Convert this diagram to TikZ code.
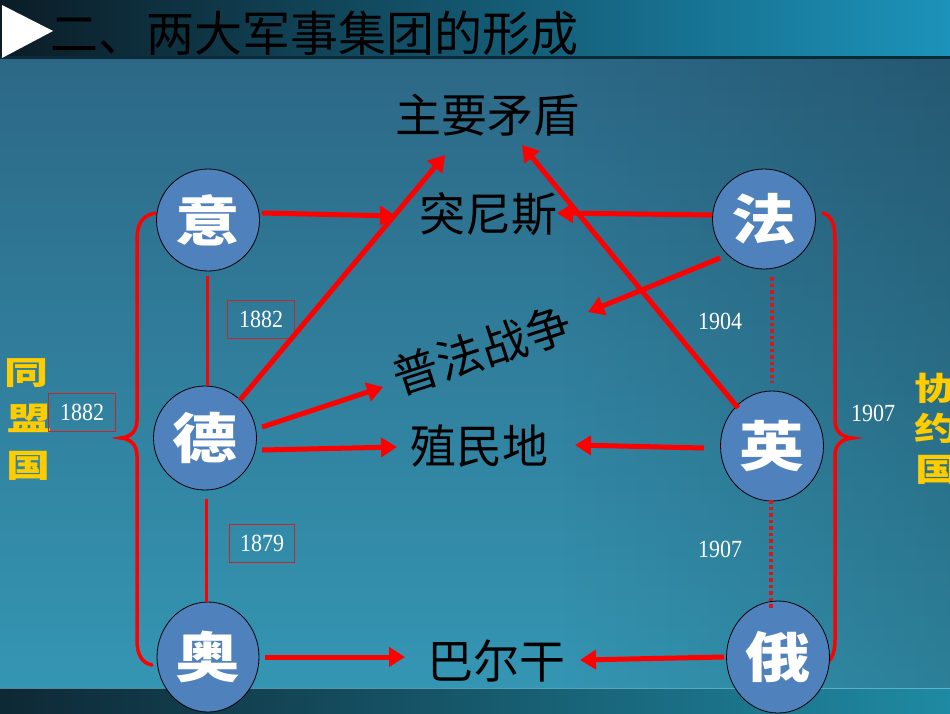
\documentclass[tikz,border=0pt]{standalone}
\usepackage{fontspec}
\setmainfont{Liberation Serif}
\newfontfamily\cjk{Noto Sans CJK SC}
\usetikzlibrary{shapes.geometric,arrows.meta,fadings}
\definecolor{circ}{HTML}{4F81BD}
\definecolor{gold}{HTML}{FFCC00}
\definecolor{bgtop}{HTML}{2C6886}
\definecolor{bgmid}{HTML}{2F88A6}
\definecolor{bgbot}{HTML}{3496B3}
\definecolor{bandL}{HTML}{0B1C26}
\definecolor{bandM}{HTML}{135A76}
\definecolor{bandR}{HTML}{1C93BA}
\definecolor{bandline}{HTML}{0A2A38}
\definecolor{botL}{HTML}{0E2835}
\definecolor{botR}{HTML}{1F8AA3}
\definecolor{boxred}{HTML}{C0282A}
\definecolor{dotred}{HTML}{D81818}
\begin{document}
\begin{tikzpicture}[x=1pt,y=-1pt,
  country/.style={ellipse, draw=black, line width=0.8pt, fill=circ, inner sep=0pt,
    minimum width=103pt, text=white, font=\cjk\bfseries\fontsize{54}{54}\selectfont},
  topic/.style={font=\cjk\fontsize{46}{46}\selectfont, text=black, inner sep=0pt},
  arr/.style={draw=red, line width=5pt, -{Triangle[length=16pt,width=19pt]}},
  link/.style={draw=red, line width=3pt},
  dotlink/.style={draw=dotred, line width=3.8pt, dash pattern=on 3.5pt off 3pt},
  year/.style={text=white, font=\fontsize{22}{22}\selectfont, inner sep=0pt},
  yearbox/.style={year, draw=boxred, line width=0.8pt, minimum width=67pt, minimum height=38pt},
  brace/.style={draw=red, line width=3.5pt, line cap=round},
  bloc/.style={text=gold, font=\cjk\bfseries\fontsize{40}{40}\selectfont, inner sep=0pt}]
\useasboundingbox (0,0) rectangle (950,713);
\clip (0,0) rectangle (950,713);
% background
\shade[top color=bgtop, middle color=bgmid, bottom color=bgbot] (0,57) rectangle (950,690);
\fill[black, opacity=0.15, path fading=west] (560,57) rectangle (950,690);
\shade[left color=bandL, middle color=bandM, right color=bandR] (0,0) rectangle (950,57);
\fill[bandline] (0,56) rectangle (950,59);
\shade[left color=botL, right color=botR] (0,688) rectangle (950,713);
\draw[cyan!40!white, opacity=0.5, line width=1pt] (0,688) -- (950,688);
\fill[white] (2,5) -- (53,31) -- (2,58) -- cycle;
% title
\node[anchor=west, font=\cjk\fontsize{48}{48}\selectfont, text=black, inner sep=0pt] (title) at (50,33) {二、两大军事集团的形成};
% braces
\draw[brace] (155,213) .. controls (141,216) and (137,225) .. (137,240) -- (137,420)
  .. controls (137,432) and (130,437) .. (121,438) .. controls (130,439) and (137,444) .. (137,456)
  -- (137,640) .. controls (137,655) and (142,663) .. (152,665);
\draw[brace] (823,213) .. controls (832,216) and (835,225) .. (835,240) -- (835,420)
  .. controls (835,432) and (842,437) .. (852,438) .. controls (842,439) and (835,444) .. (835,456)
  -- (835,640) .. controls (835,655) and (830,663) .. (822,665);
% countries
\node[country, minimum height=102pt] (yi) at (208,220) {\scalebox{1.2}[1]{意}};
\node[country, minimum height=104pt] (de) at (205,438) {\scalebox{1.2}[1]{德}};
\node[country, minimum width=102pt, minimum height=110pt] (ao) at (208,657) {\scalebox{1.2}[1]{奥}};
\node[country, minimum height=100pt] (fa) at (764,219) {\scalebox{1.2}[1]{法}};
\node[country, minimum height=110pt] (ying) at (772,446) {\scalebox{1.2}[1]{英}};
\node[country, minimum height=112pt] (e) at (778,657) {\scalebox{1.2}[1]{俄}};
% topics
\node[topic] (zyms) at (487,115) {主要矛盾};
\node[topic] (tns) at (488,214) {突尼斯};
\node[topic, rotate=18] (pfzz) at (482,350) {普法战争};
\node[topic] (zmd) at (479,446) {殖民地};
\node[topic] (beg) at (496,661) {巴尔干};
% blocs
\node[bloc] (tong) at (27,373) {\scalebox{1.1}[0.8]{同}};
\node[bloc] (meng) at (29,418) {\scalebox{1.1}[0.8]{盟}};
\node[bloc] (guo1) at (28,466) {\scalebox{1.1}[0.8]{国}};
\node[bloc] (xie) at (936,388) {\scalebox{1.1}[0.8]{协}};
\node[bloc] (yue) at (936,428) {\scalebox{1.1}[0.8]{约}};
\node[bloc] (guo2) at (937,470) {\scalebox{1.1}[0.8]{国}};
% years
\node[yearbox] (y1882a) at (261,319) {\scalebox{1}[1.12]{1882}};
\node[yearbox] (y1882b) at (82,412) {\scalebox{1}[1.12]{1882}};
\node[yearbox, minimum width=65pt] (y1879) at (262,543) {\scalebox{1}[1.12]{1879}};
\node[year] (y1904) at (720,321) {\scalebox{1}[1.12]{1904}};
\node[year] (y1907a) at (873,413) {\scalebox{1}[1.12]{1907}};
\node[year] (y1907b) at (720,549) {\scalebox{1}[1.12]{1907}};
% alliance links
\draw[link] ([shift={(-1,56)}]yi.center) -- ([shift={(2,-52)}]de.center);
\draw[link] ([shift={(1,61)}]de.center) -- ([shift={(-2,-55)}]ao.center);
\draw[dotlink] ([shift={(8,58)}]fa.center) -- ([shift={(0,-63)}]ying.center);
\draw[dotlink] ([shift={(-1,54)}]ying.center) -- ([shift={(-7,-47)}]e.center);
% arrows
\draw[arr] ([shift={(54,-7)}]yi.center) -- ([shift={(-92,2)}]tns.center);
\draw[arr] ([shift={(35,-38)}]de.center) -- ([shift={(-42,40)}]zyms.center);
\draw[arr] ([shift={(-52,-4)}]fa.center) -- ([shift={(69,-1)}]tns.center);
\draw[arr] ([shift={(-44,39)}]fa.center) -- ([shift={(106,-38)}]pfzz.center);
\draw[arr] ([shift={(-34,-38)}]ying.center) -- ([shift={(35,30)}]zyms.center);
\draw[arr] ([shift={(57,-11)}]de.center) -- ([shift={(-99,37)}]pfzz.center);
\draw[arr] ([shift={(57,12)}]de.center) -- ([shift={(-82,1)}]zmd.center);
\draw[arr] ([shift={(-68,2)}]ying.center) -- ([shift={(96,-1)}]zmd.center);
\draw[arr] ([shift={(57,0)}]ao.center) -- ([shift={(-91,-4)}]beg.center);
\draw[arr] ([shift={(-54,0)}]e.center) -- ([shift={(84,-1)}]beg.center);
\end{tikzpicture}
\end{document}
